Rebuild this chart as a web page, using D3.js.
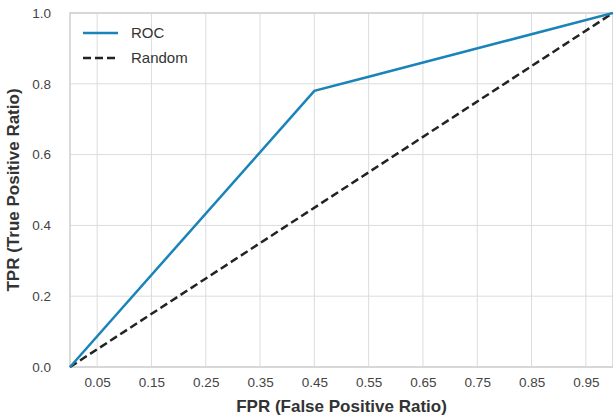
<!DOCTYPE html>
<html><head><meta charset="utf-8">
<script src="https://cdn.jsdelivr.net/npm/d3@7"></script>
<style>body{margin:0;background:#fff;} svg{display:block;font-family:"Liberation Sans",Arial,sans-serif;}</style>
</head><body>
<svg id="chart" width="613" height="419"></svg>
<script>
const rocFpr = [0, 0.45, 0.55, 0.80, 1.0];
const rocTpr = [0, 0.78, 0.82, 0.92, 1.0];
const randFpr = [0, 1];
const randTpr = [0, 1];
const xTicks = [0.05, 0.15, 0.25, 0.35, 0.45, 0.55, 0.65, 0.75, 0.85, 0.95];
const yTicks = [0.0, 0.2, 0.4, 0.6, 0.8, 1.0];
const seriesNames = ["ROC", "Random"];

const svg = d3.select("#chart");
const m = {l: 70, r: 0, t: 13, b: 52};
const W = 613, H = 419;
const x = d3.scaleLinear().domain([0, 1]).range([m.l, W - m.r]);
const y = d3.scaleLinear().domain([0, 1]).range([H - m.b, m.t]);

// grid
const g = svg.append("g");
g.selectAll(".gx").data(xTicks).join("line")
  .attr("x1", d => x(d)).attr("x2", d => x(d)).attr("y1", y(0)).attr("y2", y(1))
  .attr("stroke", "#dcdcdc").attr("stroke-width", 1);
g.selectAll(".gy").data(yTicks).join("line")
  .attr("x1", x(0)).attr("x2", x(1)).attr("y1", d => y(d)).attr("y2", d => y(d))
  .attr("stroke", "#dcdcdc").attr("stroke-width", 1);
// spines
svg.append("rect").attr("x", x(0)).attr("y", y(1)).attr("width", x(1) - x(0)).attr("height", y(0) - y(1))
  .attr("fill", "none").attr("stroke", "#cfcfcf").attr("stroke-width", 1.5);

// axes
const xa = svg.append("g").attr("transform", `translate(0,${y(0)})`)
  .call(d3.axisBottom(x).tickValues(xTicks).tickFormat(d3.format(".2f")).tickSize(0).tickPadding(10));
const ya = svg.append("g").attr("transform", `translate(${x(0)},0)`)
  .call(d3.axisLeft(y).tickValues(yTicks).tickFormat(d3.format(".1f")).tickSize(0).tickPadding(19));
[xa, ya].forEach(a => {
  a.select(".domain").remove();
  a.selectAll("text").attr("fill", "#444").attr("font-size", 13.5).attr("font-family", "Liberation Sans, Arial, sans-serif");
});

// lines
const line = d3.line().x(d => x(d[0])).y(d => y(d[1]));
const rocData = rocFpr.map((f, i) => [f, rocTpr[i]]);
const randData = randFpr.map((f, i) => [f, randTpr[i]]);
svg.append("path").datum(randData).attr("d", line).attr("fill", "none")
  .attr("stroke", "#222").attr("stroke-width", 2.5).attr("stroke-dasharray", "8,4");
svg.append("path").datum(rocData).attr("d", line).attr("fill", "none")
  .attr("stroke", "#1a84b8").attr("stroke-width", 2.5);

// legend
const leg = svg.append("g");
const lx = 83, ly = [33, 58];
leg.append("line").attr("x1", lx).attr("x2", lx + 35).attr("y1", ly[0]).attr("y2", ly[0])
  .attr("stroke", "#1a84b8").attr("stroke-width", 2.5);
leg.append("line").attr("x1", lx).attr("x2", lx + 35).attr("y1", ly[1]).attr("y2", ly[1])
  .attr("stroke", "#222").attr("stroke-width", 2.5).attr("stroke-dasharray", "8,4");
seriesNames.forEach((n, i) => {
  leg.append("text").attr("x", 131).attr("y", ly[i]).attr("dy", "0.35em")
    .attr("font-size", 15).attr("fill", "#333").text(n);
});

// axis titles
svg.append("text").attr("x", (x(0) + x(1)) / 2).attr("y", 412).attr("text-anchor", "middle")
  .attr("font-size", 17).attr("font-weight", "bold").attr("fill", "#333").text("FPR (False Positive Ratio)");
svg.append("text").attr("transform", `translate(19,${(y(0) + y(1)) / 2}) rotate(-90)`).attr("text-anchor", "middle")
  .attr("font-size", 17).attr("font-weight", "bold").attr("fill", "#333").text("TPR (True Positive Ratio)");
</script>
</body></html>
